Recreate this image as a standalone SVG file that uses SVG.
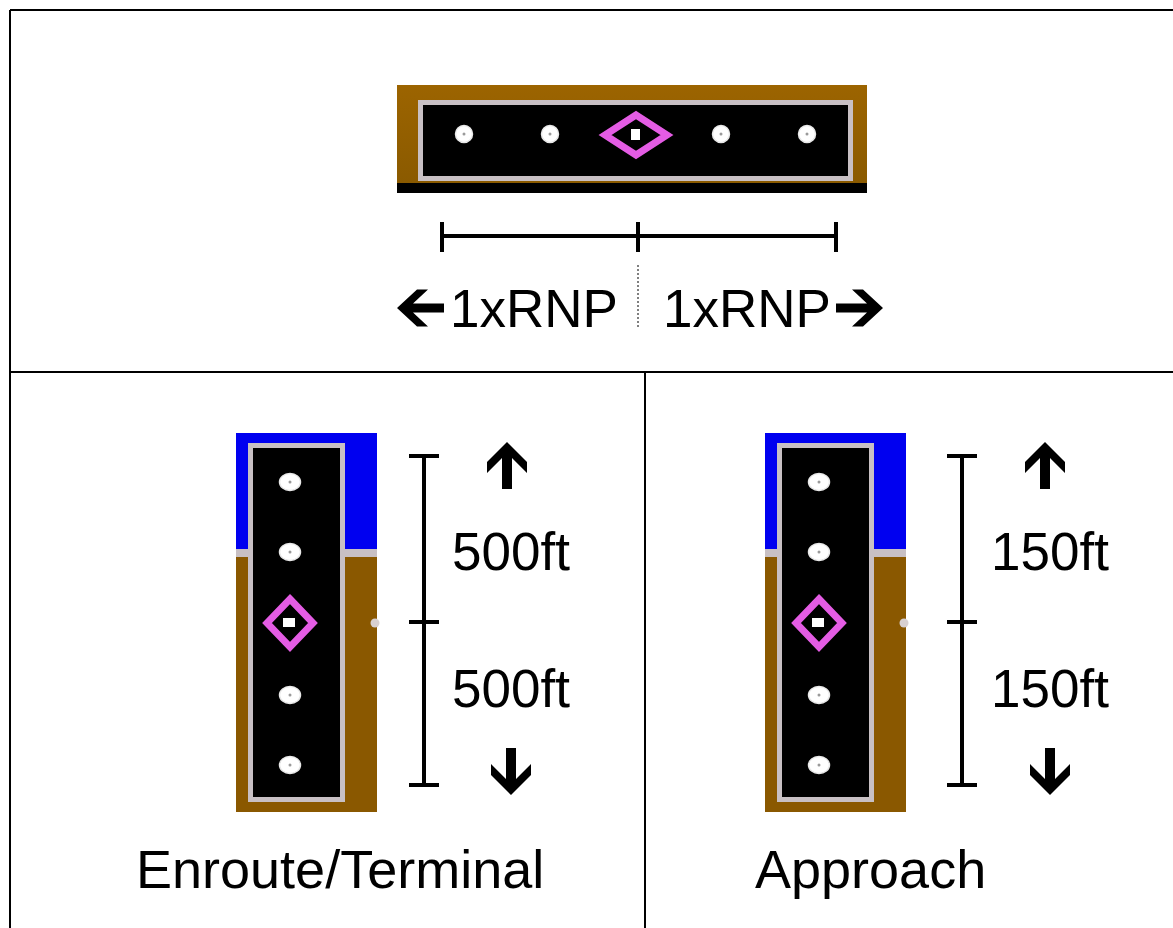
<svg xmlns="http://www.w3.org/2000/svg" width="1173" height="928" viewBox="0 0 1173 928">
<defs>
<style>
.grid{stroke:#000;stroke-width:2;fill:none}
.bar{stroke:#000;stroke-width:4;fill:none}
.dot{fill:#ffffff;stroke:#e8e8e8;stroke-width:1.5}
.dotc{fill:#9a9a9a}
.frame{fill:#000;stroke:#c8c0c4;stroke-width:5}
.dia{fill:none;stroke:#e45ce4;stroke-width:7}
.lbl{font-family:"Liberation Sans",Arial,sans-serif;font-size:53px;fill:#000}
.big{font-size:54px}
.arr{fill:#000}
</style>
<polygon id="arrUp" points="0,0 20,20 20,31 5,16 5,47 -5,47 -5,16 -20,31 -20,20"/>
<linearGradient id="brownTop" x1="0" y1="0" x2="0" y2="1">
<stop offset="0" stop-color="#9c6400"/>
<stop offset="1" stop-color="#8a5a00"/>
</linearGradient>
</defs>
<rect x="0" y="0" width="1173" height="928" fill="#ffffff"/>

<g id="table">
<line class="grid" x1="10" y1="10" x2="1173" y2="10"/>
<line class="grid" x1="10" y1="10" x2="10" y2="928"/>
<line class="grid" x1="10" y1="372" x2="1173" y2="372"/>
<line class="grid" x1="645" y1="372" x2="645" y2="928"/>
</g>

<g id="lateral-indicator">
<rect x="397" y="85" width="470" height="100" fill="url(#brownTop)"/>
<rect x="397" y="183" width="470" height="10" fill="#000"/>
<rect class="frame" x="420.5" y="102.5" width="430" height="76"/>
<circle class="dot" cx="464" cy="134" r="8.5"/><circle class="dotc" cx="464" cy="134" r="1.5"/>
<circle class="dot" cx="550" cy="134" r="8.5"/><circle class="dotc" cx="550" cy="134" r="1.5"/>
<circle class="dot" cx="721" cy="134" r="8.5"/><circle class="dotc" cx="721" cy="134" r="1.5"/>
<circle class="dot" cx="807" cy="134" r="8.5"/><circle class="dotc" cx="807" cy="134" r="1.5"/>
<polygon class="dia" points="636,115 667,135 636,155 605,135"/>
<rect x="631" y="129" width="9" height="11" fill="#ffffff"/>
</g>

<g id="lateral-scale">
<line class="bar" x1="442" y1="236" x2="836" y2="236"/>
<line class="bar" x1="442" y1="222" x2="442" y2="252"/>
<line class="bar" x1="638" y1="222" x2="638" y2="252"/>
<line class="bar" x1="836" y1="222" x2="836" y2="252"/>
<line x1="638" y1="265" x2="638" y2="327" stroke="#000" stroke-width="1" stroke-dasharray="2,2"/>
<use href="#arrUp" class="arr" transform="translate(397,308) rotate(-90) scale(0.92,1)"/>
<text class="lbl" x="450" y="327">1xRNP</text>
<text class="lbl" x="663" y="327">1xRNP</text>
<use href="#arrUp" class="arr" transform="translate(883,308) rotate(90) scale(0.92,1)"/>
</g>

<g id="enroute-indicator">
<rect x="236" y="433" width="141" height="117" fill="#0000f0"/>
<rect x="236" y="549" width="141" height="8" fill="#c8c0c4"/>
<rect x="236" y="557" width="141" height="255" fill="#8a5800"/>
<circle cx="375" cy="623" r="4.5" fill="#d8d0d0"/>
<rect class="frame" x="250.5" y="445.5" width="92" height="354"/>
<ellipse class="dot" cx="290" cy="482" rx="10.5" ry="8.5"/><circle class="dotc" cx="290" cy="482" r="1.5"/>
<ellipse class="dot" cx="290" cy="552" rx="10.5" ry="8.5"/><circle class="dotc" cx="290" cy="552" r="1.5"/>
<ellipse class="dot" cx="290" cy="695" rx="10.5" ry="8.5"/><circle class="dotc" cx="290" cy="695" r="1.5"/>
<ellipse class="dot" cx="290" cy="765" rx="10.5" ry="8.5"/><circle class="dotc" cx="290" cy="765" r="1.5"/>
<polygon class="dia" points="290,599 313,623 290,647 267,623"/>
<rect x="283" y="618" width="12" height="9" fill="#ffffff"/>
</g>

<g id="enroute-scale">
<line class="bar" x1="424" y1="456" x2="424" y2="785"/>
<line class="bar" x1="409" y1="456" x2="439" y2="456"/>
<line class="bar" x1="409" y1="622" x2="439" y2="622"/>
<line class="bar" x1="409" y1="785" x2="439" y2="785"/>
<use href="#arrUp" class="arr" transform="translate(507,442)"/>
<use href="#arrUp" class="arr" transform="translate(511,795) rotate(180)"/>
<text class="lbl" x="452" y="570">500ft</text>
<text class="lbl" x="452" y="707">500ft</text>
<text class="lbl big" x="136" y="888">Enroute/Terminal</text>
</g>

<g id="approach-indicator">
<rect x="765" y="433" width="141" height="117" fill="#0000f0"/>
<rect x="765" y="549" width="141" height="8" fill="#c8c0c4"/>
<rect x="765" y="557" width="141" height="255" fill="#8a5800"/>
<circle cx="904" cy="623" r="4.5" fill="#d8d0d0"/>
<rect class="frame" x="779.5" y="445.5" width="92" height="354"/>
<ellipse class="dot" cx="819" cy="482" rx="10.5" ry="8.5"/><circle class="dotc" cx="819" cy="482" r="1.5"/>
<ellipse class="dot" cx="819" cy="552" rx="10.5" ry="8.5"/><circle class="dotc" cx="819" cy="552" r="1.5"/>
<ellipse class="dot" cx="819" cy="695" rx="10.5" ry="8.5"/><circle class="dotc" cx="819" cy="695" r="1.5"/>
<ellipse class="dot" cx="819" cy="765" rx="10.5" ry="8.5"/><circle class="dotc" cx="819" cy="765" r="1.5"/>
<polygon class="dia" points="819,599 842,623 819,647 796,623"/>
<rect x="812" y="618" width="12" height="9" fill="#ffffff"/>
</g>

<g id="approach-scale">
<line class="bar" x1="962" y1="456" x2="962" y2="785"/>
<line class="bar" x1="947" y1="456" x2="977" y2="456"/>
<line class="bar" x1="947" y1="622" x2="977" y2="622"/>
<line class="bar" x1="947" y1="785" x2="977" y2="785"/>
<use href="#arrUp" class="arr" transform="translate(1045,442)"/>
<use href="#arrUp" class="arr" transform="translate(1050,795) rotate(180)"/>
<text class="lbl" x="991" y="570">150ft</text>
<text class="lbl" x="991" y="707">150ft</text>
<text class="lbl big" x="755" y="888">Approach</text>
</g>
</svg>
